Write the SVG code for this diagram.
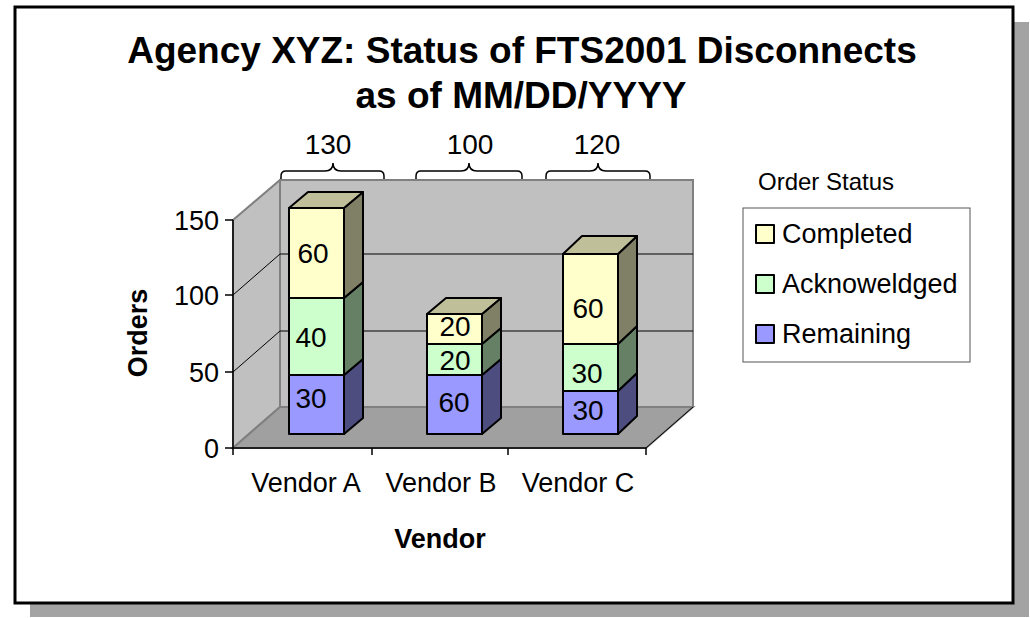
<svg xmlns="http://www.w3.org/2000/svg" width="1030" height="618" viewBox="0 0 1030 618">
<style>
text{font-family:"Liberation Sans",Arial,sans-serif;fill:#000}
.t{font-weight:bold;font-size:37px;text-anchor:middle}
.ax{font-weight:bold;font-size:27px;text-anchor:middle}
.lb{font-size:27px}
.bl{font-size:28px;text-anchor:middle}
.wall{fill:#c0c0c0;stroke:#808080;stroke-width:2}
.edge{stroke:#808080;stroke-width:2;fill:none}
.grid{stroke:#000;stroke-width:1;fill:none}
.axis{stroke:#000;stroke-width:1.5;fill:none}
.f{stroke:#000;stroke-width:2;stroke-linejoin:round}
.bF{fill:#9999ff}.bS{fill:#4d4d80}
.gF{fill:#ccffcc}.gS{fill:#668066}
.yF{fill:#ffffcc}.yS{fill:#808066}.yT{fill:#bfbf99}
.brace{stroke:#000;stroke-width:1.5;fill:none}
</style>
<g id="frame">
<rect x="30" y="22" width="999" height="595" fill="#a3a3a3"/>
<rect x="15" y="7" width="998" height="596" fill="#fff" stroke="#000" stroke-width="3"/>
</g>
<g id="title">
<text class="t" x="522" y="63">Agency XYZ: Status of FTS2001 Disconnects</text>
<text class="t" x="521" y="108" font-size="39">as of MM/DD/YYYY</text>
</g>
<g id="plot-walls">
<polygon class="wall" points="233,220 280,180 280,407 233,448" fill="#c4c4c4"/>
<rect class="wall" x="280" y="180" width="413" height="227"/>
<polygon points="233,448 280,407 693,407 646,448" fill="#a0a0a0" stroke="#808080" stroke-width="2"/>
<line x1="646" y1="448" x2="693" y2="407" stroke="#000" stroke-width="1"/>
</g>
<g id="gridlines">
<polyline class="grid" points="233,295 280,254 693,254"/>
<polyline class="grid" points="233,372 280,331 693,331"/>
</g>
<g id="axes">
<line class="axis" x1="233" y1="220" x2="233" y2="455"/>
<line class="axis" x1="225" y1="220" x2="233" y2="220"/>
<line class="axis" x1="225" y1="295" x2="233" y2="295"/>
<line class="axis" x1="225" y1="372" x2="233" y2="372"/>
<line class="axis" x1="225" y1="448" x2="233" y2="448"/>
<line class="axis" x1="233" y1="448" x2="646" y2="448"/>
<line class="axis" x1="372" y1="448" x2="372" y2="455"/>
<line class="axis" x1="508" y1="448" x2="508" y2="455"/>
<line class="axis" x1="646" y1="448" x2="646" y2="455"/>
<text class="lb" x="219" y="230" text-anchor="end">150</text>
<text class="lb" x="219" y="305" text-anchor="end">100</text>
<text class="lb" x="219" y="382" text-anchor="end">50</text>
<text class="lb" x="219" y="458" text-anchor="end">0</text>
<text class="lb" x="306" y="492" text-anchor="middle">Vendor A</text>
<text class="lb" x="441" y="492" text-anchor="middle">Vendor B</text>
<text class="lb" x="578" y="492" text-anchor="middle">Vendor C</text>
<text class="ax" x="440" y="548">Vendor</text>
<text class="ax" transform="translate(147,333) rotate(-90)" font-size="29">Orders</text>
</g>
<g id="bar-vendor-a">
<rect class="f bF" x="289" y="375" width="55" height="59"/>
<polygon class="f bS" points="344,434 363,418 363,359 344,375"/>
<rect class="f gF" x="289" y="298" width="55" height="77"/>
<polygon class="f gS" points="344,375 363,359 363,282 344,298"/>
<rect class="f yF" x="289" y="208" width="55" height="90"/>
<polygon class="f yS" points="344,298 363,282 363,192 344,208"/>
<polygon class="f yT" points="289,208 308,192 363,192 344,208"/>
<text class="bl" x="311" y="408">30</text>
<text class="bl" x="311" y="347">40</text>
<text class="bl" x="313" y="263">60</text>
</g>
<g id="bar-vendor-b">
<rect class="f bF" x="427" y="375" width="55" height="59"/>
<polygon class="f bS" points="482,434 501,418 501,359 482,375"/>
<rect class="f gF" x="427" y="344" width="55" height="31"/>
<polygon class="f gS" points="482,375 501,359 501,328 482,344"/>
<rect class="f yF" x="427" y="314" width="55" height="30"/>
<polygon class="f yS" points="482,344 501,328 501,298 482,314"/>
<polygon class="f yT" points="427,314 446,298 501,298 482,314"/>
<text class="bl" x="454" y="412">60</text>
<text class="bl" x="455" y="370">20</text>
<text class="bl" x="455" y="336">20</text>
</g>
<g id="bar-vendor-c">
<rect class="f bF" x="563" y="391" width="55" height="43"/>
<polygon class="f bS" points="618,434 637,416 637,373 618,391"/>
<rect class="f gF" x="563" y="344" width="55" height="47"/>
<polygon class="f gS" points="618,391 637,373 637,326 618,344"/>
<rect class="f yF" x="563" y="254" width="55" height="90"/>
<polygon class="f yS" points="618,344 637,326 637,236 618,254"/>
<polygon class="f yT" points="563,254 582,236 637,236 618,254"/>
<text class="bl" x="588" y="420">30</text>
<text class="bl" x="587" y="383">30</text>
<text class="bl" x="588" y="318">60</text>
</g>
<g id="totals">
<path class="brace" d="M281,179 V176 Q281,171 286,171 H325 Q333,171 333,163 Q333,171 341,171 H379 Q384,171 384,176 V179"/>
<text class="bl" x="328" y="154">130</text>
<path class="brace" d="M416,179 V176 Q416,171 421,171 H461 Q469,171 469,163 Q469,171 477,171 H517 Q522,171 522,176 V179"/>
<text class="bl" x="470" y="154">100</text>
<path class="brace" d="M546,179 V176 Q546,171 551,171 H590 Q598,171 598,163 Q598,171 606,171 H645 Q650,171 650,176 V179"/>
<text class="bl" x="597" y="154">120</text>
</g>
<g id="legend">
<text x="758" y="190" font-size="24">Order Status</text>
<rect x="743" y="208" width="227" height="154" fill="#fff" stroke="#555" stroke-width="1"/>
<rect class="f yF" x="756" y="225" width="18" height="18" stroke-width="1.5"/>
<text class="lb" x="782" y="243" font-size="26">Completed</text>
<rect class="f gF" x="756" y="275" width="18" height="18" stroke-width="1.5"/>
<text class="lb" x="782" y="293" font-size="26">Acknoweldged</text>
<rect class="f bF" x="756" y="325" width="18" height="18" stroke-width="1.5"/>
<text class="lb" x="782" y="343" font-size="26">Remaining</text>
</g>
</svg>
